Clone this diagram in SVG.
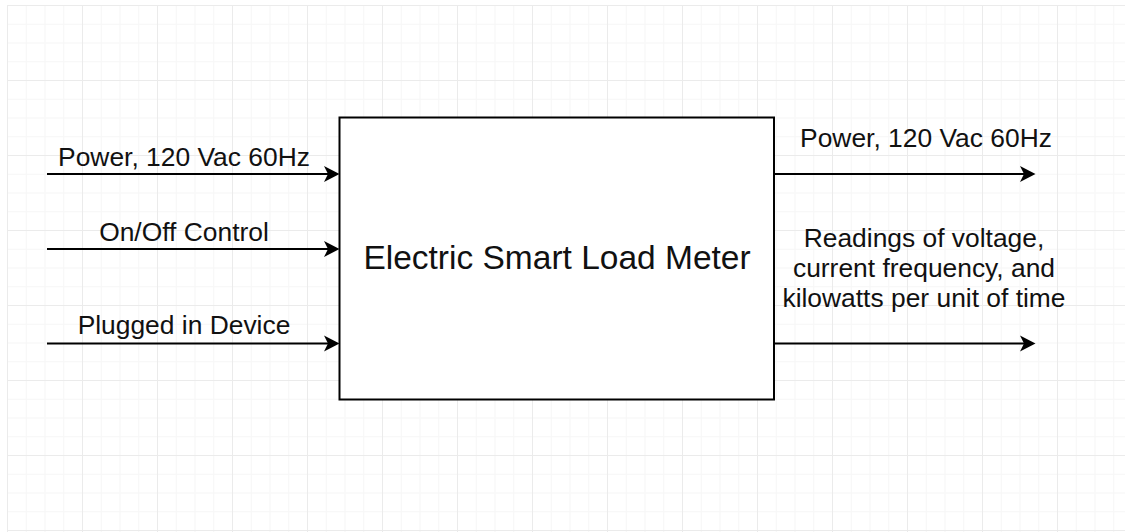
<svg xmlns="http://www.w3.org/2000/svg" width="1125" height="532" viewBox="0 0 1125 532">
  <style>
    .lbl { font-family: "Liberation Sans", Arial, sans-serif; font-size: 26.4px; fill: #111; text-anchor: middle; }
    .main { font-family: "Liberation Sans", Arial, sans-serif; font-size: 33.5px; fill: #111; text-anchor: middle; }
    .edge { stroke: #000; stroke-width: 2; fill: none; marker-end: url(#arrow); }
    .box { fill: #fff; stroke: #000; stroke-width: 2; }
  </style>
  <defs>
    <pattern id="grid" patternUnits="userSpaceOnUse" x="7" y="5" width="75" height="75">
      <rect x="18.75" y="0" width="1" height="75" fill="#f6f6f6"/>
      <rect x="37.5" y="0" width="1" height="75" fill="#f6f6f6"/>
      <rect x="56.25" y="0" width="1" height="75" fill="#f6f6f6"/>
      <rect x="0" y="18.75" width="75" height="1" fill="#f6f6f6"/>
      <rect x="0" y="37.5" width="75" height="1" fill="#f6f6f6"/>
      <rect x="0" y="56.25" width="75" height="1" fill="#f6f6f6"/>
      <rect x="0" y="0" width="1" height="75" fill="#ebebeb"/>
      <rect x="0" y="0" width="75" height="1" fill="#ebebeb"/>
    </pattern>
    <marker id="arrow" markerUnits="userSpaceOnUse" viewBox="0 0 16 17" markerWidth="16" markerHeight="17" refX="4" refY="8.5" orient="auto">
      <path d="M0,0.5 L15.5,8.5 L0,16.5 L4,8.5 Z" fill="#000"/>
    </marker>
  </defs>
  <rect x="0" y="0" width="1125" height="532" fill="#fff"/>
  <rect x="7" y="5" width="1118" height="527" fill="url(#grid)"/>

  <g id="connectors">
    <path class="edge" d="M47,174 L328,174"/>
    <path class="edge" d="M47,249 L328,249"/>
    <path class="edge" d="M47,343.5 L328,343.5"/>
    <path class="edge" d="M775,174 L1024,174"/>
    <path class="edge" d="M775,343.5 L1024,343.5"/>
  </g>

  <g id="edge-labels">
    <text class="lbl" x="184" y="165.5">Power, 120 Vac 60Hz</text>
    <text class="lbl" x="184" y="240.5">On/Off Control</text>
    <text class="lbl" x="184" y="334">Plugged in Device</text>
    <text class="lbl" x="926" y="146.5">Power, 120 Vac 60Hz</text>
    <text class="lbl" x="924" y="247">Readings of voltage,</text>
    <text class="lbl" x="924" y="276.5">current frequency, and</text>
    <text class="lbl" x="924" y="306.5">kilowatts per unit of time</text>
  </g>

  <g id="meter">
    <rect class="box" x="339.5" y="117.5" width="434.5" height="282"/>
    <text class="main" x="557" y="269">Electric Smart Load Meter</text>
  </g>
</svg>
